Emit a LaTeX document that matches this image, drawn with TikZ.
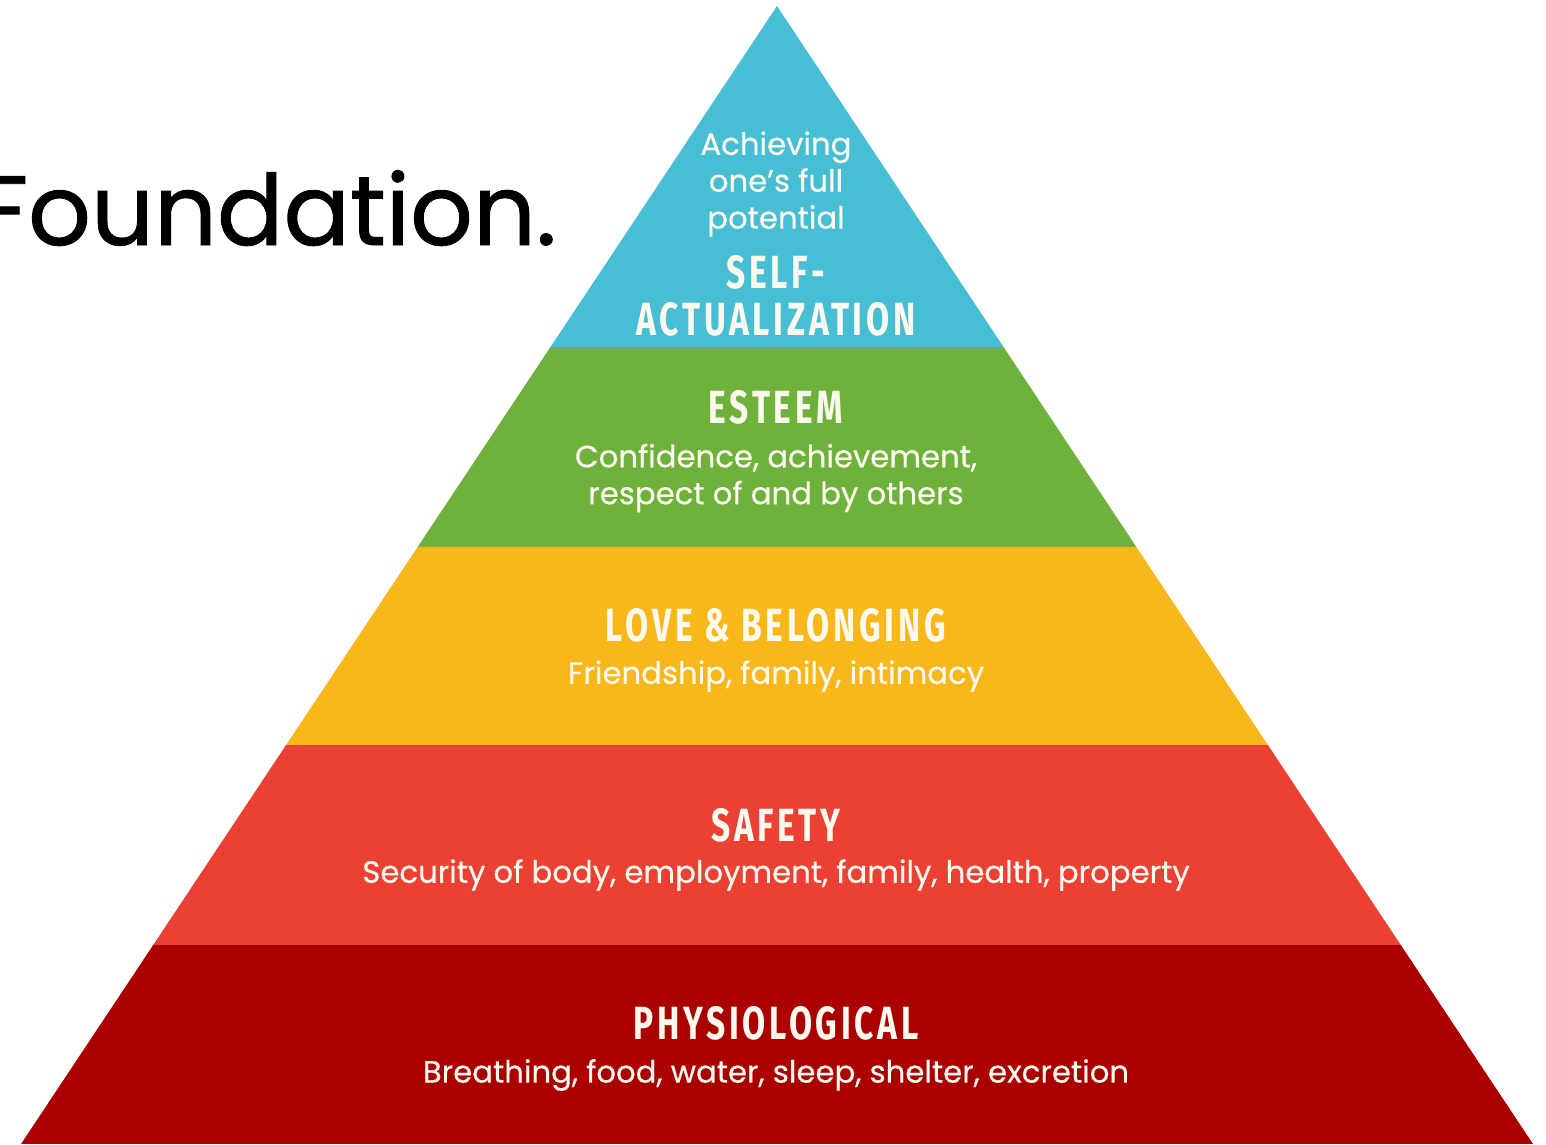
\documentclass[tikz,border=0pt]{standalone}
\usepackage{fontspec}
\setmainfont{Poppins}
\newfontfamily\titlefont{Poppins}[FakeBold=0.9]
\newfontfamily\descfont{Poppins}[FakeBold=0.5]
\newfontfamily\headfont{Fira Sans}[FakeStretch=0.72,LetterSpace=8]
\definecolor{selfblue}{RGB}{72,190,212}
\definecolor{esteemgreen}{RGB}{110,178,60}
\definecolor{loveyellow}{RGB}{248,184,27}
\definecolor{safetyred}{RGB}{235,65,52}
\definecolor{physred}{RGB}{170,0,0}
\definecolor{lighttext}{RGB}{252,250,238}

\tikzset{
	lvltitle/.style={text=lighttext,inner sep=0,font=\headfont\bfseries\fontsize{26.5}{27}\selectfont,align=center},
	lvltext/.style={text=lighttext,inner sep=0,font=\descfont\fontsize{17.5}{21}\selectfont,align=center},
}

\begin{document}
\begin{tikzpicture}[x=0.02cm,y=-0.02cm]
	\clip (0,0) rectangle (1546,1144);
	\begin{scope}
		\clip (777,6) -- (1533,1144) -- (21,1144) -- cycle;
		\fill[selfblue] (0,0) rectangle (1546,347);
		\fill[esteemgreen] (0,347) rectangle (1546,547);
		\fill[loveyellow] (0,547) rectangle (1546,745);
		\fill[safetyred] (0,745) rectangle (1546,945);
		\fill[physred] (0,945) rectangle (1546,1144);
	\end{scope}
	\node[anchor=base east,inner sep=0,font=\titlefont\fontsize{56}{56}\selectfont] (title) at (557,245) {Foundation.};
	\node[lvltext] (selfdesc) at (776,184) {Achieving\\one’s full\\potential};
	\node[lvltitle] (self) at (776,296) {SELF-\\ACTUALIZATION};
	\node[lvltitle] (esteem) at (776,407) {ESTEEM};
	\node[lvltext] (esteemdesc) at (776,478) {Confidence, achievement,\\respect of and by others};
	\node[lvltitle] (love) at (776,625) {LOVE \& BELONGING};
	\node[lvltext] (lovedesc) at (776,676) {Friendship, family, intimacy};
	\node[lvltitle] (safety) at (776,825) {SAFETY};
	\node[lvltext] (safetydesc) at (776,875) {Security of body, employment, family, health, property};
	\node[lvltitle] (phys) at (776,1023) {PHYSIOLOGICAL};
	\node[lvltext] (physdesc) at (776,1075) {Breathing, food, water, sleep, shelter, excretion};
\end{tikzpicture}
\end{document}
